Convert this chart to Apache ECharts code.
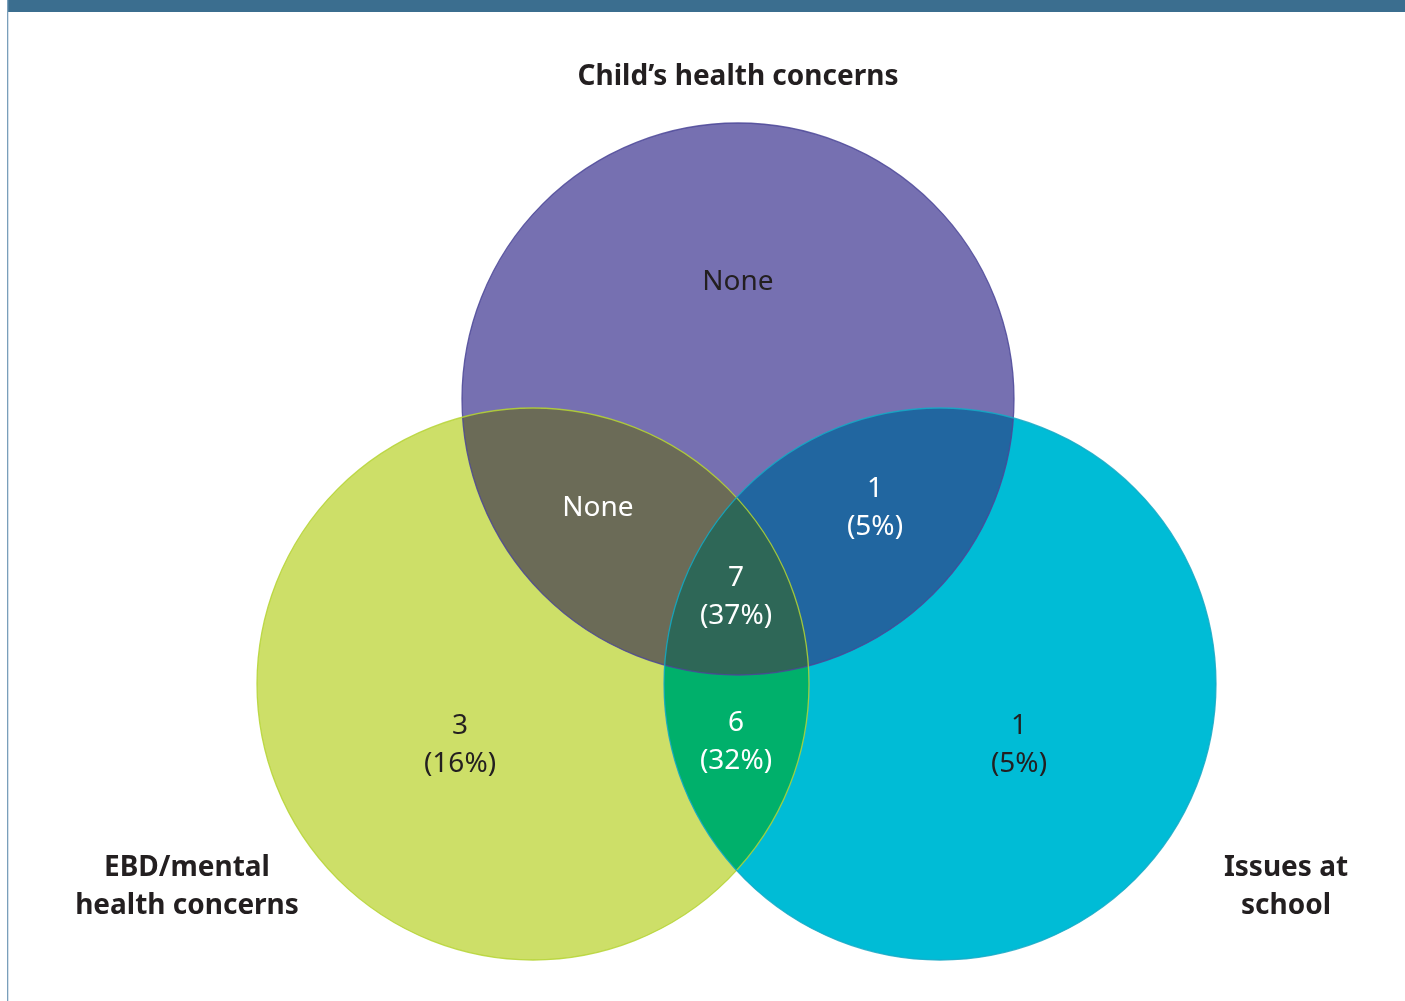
<!DOCTYPE html>
<html><head><meta charset="utf-8">
<script src="https://cdn.jsdelivr.net/npm/echarts@6/dist/echarts.min.js"></script>
<style>html,body{margin:0;padding:0;background:#fff}#c{width:1405px;height:1001px}</style>
</head><body><div id="c"></div>
<script>
// Sets (circles)
const setNames = ['Child\u2019s health concerns', 'EBD/mental\nhealth concerns', 'Issues at\nschool'];
const circleCX = [738, 533, 940];
const circleCY = [399, 684, 684];
const circleR = [276, 276, 276];
const circleColors = ['#7670B1', '#CDDF68', '#00BCD6'];
const circleStrokes = ['#4B4798', '#B5D334', '#16A9C6'];
// Overlap regions (indices into sets)
const regionSets = [[0, 1], [0, 2], [1, 2], [0, 1, 2]];
const regionColors = ['#6B6B57', '#2166A0', '#00B06B', '#2E6757'];
// Region counts / percentages
const labelRegion = ['Child only', 'Child+EBD', 'Child+School', 'All three', 'EBD only', 'EBD+School', 'School only'];
const labelCounts = [null, null, 1, 7, 3, 6, 1];
const labelPercents = [null, null, 5, 37, 16, 32, 5];
const labelX = [738, 598, 875, 736, 460, 736, 1019];
const labelY = [282, 508, 508, 597, 745, 742, 745];
const labelDark = [true, false, false, false, true, false, true];
// Set title anchors
const titleX = [738, 187, 1286];
const titleY = [77, 887, 887];

function regionPolygon(set) {
  const pts = [];
  const N = 1440;
  set.forEach(c => {
    for (let k = 0; k < N; k++) {
      const a = k / N * Math.PI * 2;
      const x = circleCX[c] + circleR[c] * Math.cos(a);
      const y = circleCY[c] + circleR[c] * Math.sin(a);
      let inside = true;
      set.forEach(d => {
        if (d === c) return;
        const dx = x - circleCX[d], dy = y - circleCY[d];
        if (Math.sqrt(dx * dx + dy * dy) > circleR[d] + 0.01) inside = false;
      });
      if (inside) pts.push([x, y]);
    }
  });
  let mx = 0, my = 0;
  pts.forEach(p => { mx += p[0]; my += p[1]; });
  mx /= pts.length; my /= pts.length;
  pts.sort((p, q) => Math.atan2(p[1] - my, p[0] - mx) - Math.atan2(q[1] - my, q[0] - mx));
  return pts;
}

const chart = echarts.init(document.getElementById('c'), null, {renderer: 'canvas'});
const textFont = '"Noto Sans", "Open Sans", sans-serif';

chart.setOption({
  animation: false,
  backgroundColor: '#ffffff',
  graphic: [
    {type: 'rect', left: 8, top: 0, shape: {width: 1397, height: 12}, style: {fill: '#3B6E8F'}, z: 100},
    {type: 'rect', left: 7, top: 0, shape: {width: 1.3, height: 1001}, style: {fill: '#7A9FBB'}, z: 100}
  ],
  grid: {left: 0, right: 0, top: 0, bottom: 0},
  xAxis: {type: 'value', min: 0, max: 1405, show: false},
  yAxis: {type: 'value', min: 0, max: 1001, inverse: true, show: false},
  series: [
    {
      type: 'custom', clip: false, z: 1,
      data: circleCX.map((x, i) => [i]),
      renderItem: function (params, api) {
        const i = api.value(0);
        const c = api.coord([circleCX[i], circleCY[i]]);
        const r = api.size([circleR[i], 0])[0];
        return {type: 'circle', shape: {cx: c[0], cy: c[1], r: r}, style: {fill: circleColors[i], stroke: null}};
      }
    },
    {
      type: 'custom', clip: false, z: 2,
      data: regionSets.map((s, i) => [i]),
      renderItem: function (params, api) {
        const i = api.value(0);
        const pts = regionPolygon(regionSets[i]).map(p => api.coord(p));
        return {type: 'polygon', shape: {points: pts}, style: {fill: regionColors[i], stroke: null}};
      }
    },
    {
      type: 'custom', clip: false, z: 3,
      data: circleCX.map((x, i) => [i]),
      renderItem: function (params, api) {
        const i = api.value(0);
        const c = api.coord([circleCX[i], circleCY[i]]);
        const r = api.size([circleR[i], 0])[0];
        return {type: 'circle', shape: {cx: c[0], cy: c[1], r: r}, style: {fill: 'none', stroke: circleStrokes[i], lineWidth: 1.3, opacity: 0.85}};
      }
    },
    {
      type: 'scatter', z: 5, symbolSize: 0, silent: true,
      itemStyle: {opacity: 1},
      data: labelX.map((x, i) => ({
        value: [x, labelY[i]],
        name: labelRegion[i],
        label: {color: labelDark[i] ? '#231F20' : '#FFFFFF'}
      })),
      label: {
        show: true, position: 'inside', fontFamily: textFont, fontSize: 28, lineHeight: 38,
        textBorderWidth: 0,
        formatter: function (p) {
          const i = p.dataIndex;
          return labelCounts[i] == null ? 'None' : labelCounts[i] + '\n(' + labelPercents[i] + '%)';
        }
      }
    },
    {
      type: 'scatter', z: 5, symbolSize: 0, silent: true,
      itemStyle: {opacity: 1},
      data: titleX.map((x, i) => [x, titleY[i]]),
      label: {
        show: true, position: 'inside', fontFamily: textFont, fontWeight: 'bold', fontSize: 28, lineHeight: 38,
        color: '#231F20', textBorderWidth: 0,
        formatter: function (p) { return setNames[p.dataIndex]; }
      }
    }
  ]
});
</script></body></html>
